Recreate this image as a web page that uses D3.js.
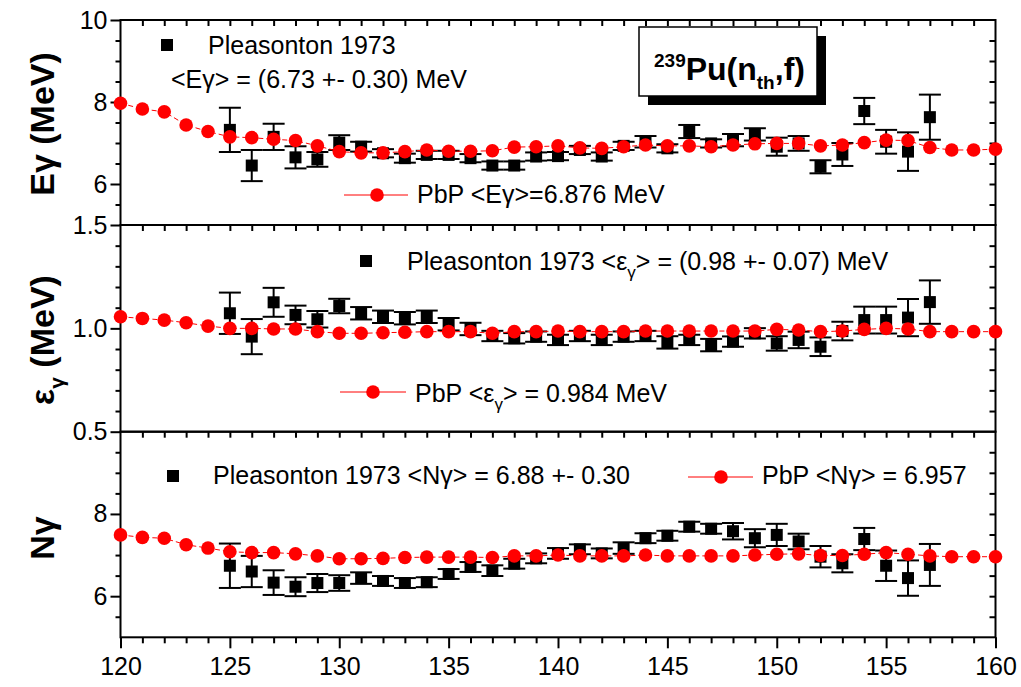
<!DOCTYPE html>
<html><head><meta charset="utf-8">
<script src="https://cdn.jsdelivr.net/npm/d3@7"></script>
<style>body{margin:0;background:#fff;} svg{display:block;font-family:"Liberation Sans",Arial,Helvetica,sans-serif;}</style>
</head><body><svg id="c" width="1021" height="687"></svg>
<script>
// ---------- data ----------
const massPbP = [120,121,122,123,124,125,126,127,128,129,130,131,132,133,134,135,136,137,138,139,140,
                 141,142,143,144,145,146,147,148,149,150,151,152,153,154,155,156,157,158,159,160];
const egPbP  = [7.97,7.83,7.76,7.44,7.28,7.15,7.13,7.09,7.06,6.93,6.79,6.76,6.76,6.79,6.83,6.80,6.80,6.81,6.90,6.91,6.93,
                6.88,6.87,6.91,6.95,6.93,6.93,6.91,6.95,6.98,6.99,6.99,6.93,6.95,7.01,7.07,7.06,6.89,6.83,6.83,6.85];
const epsPbP = [1.056,1.048,1.040,1.027,1.011,1.000,1.000,0.997,0.997,0.984,0.976,0.976,0.979,0.981,0.984,0.984,0.984,0.976,0.984,0.984,0.987,
                0.984,0.984,0.984,0.987,0.987,0.987,0.987,0.987,0.987,0.995,0.992,0.984,0.987,0.995,1.000,0.997,0.984,0.984,0.984,0.984];
const ngPbP  = [7.49,7.43,7.41,7.25,7.17,7.08,7.06,7.06,7.03,6.98,6.91,6.91,6.92,6.94,6.95,6.95,6.95,6.94,6.98,6.98,7.00,
                6.98,6.98,6.98,7.00,6.98,6.98,6.98,6.98,7.00,7.02,7.03,6.99,6.99,7.02,7.06,7.02,6.98,6.96,6.96,6.96];

const massExp = [125,126,127,128,129,130,131,132,133,134,135,136,137,138,139,140,
                 141,142,143,144,145,146,147,148,149,150,151,152,153,154,155,156,157];
const egExp  = [7.32,6.45,7.15,6.65,6.60,7.01,6.91,6.75,6.63,6.71,6.71,6.63,6.45,6.45,6.67,6.68,
                6.83,6.67,6.93,7.03,6.87,7.28,6.99,7.07,7.21,6.91,6.99,6.42,6.72,7.78,7.03,6.79,7.63];
const egErr  = [0.54,0.38,0.32,0.27,0.18,0.18,0.12,0.10,0.11,0.10,0.10,0.10,0.10,0.10,0.10,0.10,
                0.10,0.10,0.10,0.14,0.10,0.16,0.10,0.15,0.15,0.22,0.18,0.16,0.28,0.32,0.29,0.47,0.55];
const epsExp = [1.073,0.960,1.126,1.065,1.044,1.108,1.073,1.056,1.049,1.056,1.020,0.997,0.963,0.952,0.960,0.944,
                0.963,0.944,0.960,0.963,0.932,0.944,0.919,0.936,0.976,0.927,0.944,0.911,0.987,1.040,1.040,1.052,1.127];
const epsErr = [0.100,0.085,0.070,0.045,0.040,0.035,0.030,0.030,0.030,0.030,0.030,0.030,0.025,0.025,0.025,0.025,
                0.025,0.025,0.025,0.025,0.030,0.025,0.030,0.025,0.025,0.035,0.040,0.045,0.045,0.065,0.065,0.090,0.105];
const ngExp  = [6.74,6.60,6.33,6.23,6.32,6.32,6.44,6.37,6.32,6.34,6.54,6.71,6.62,6.79,6.92,7.04,
                7.14,7.04,7.17,7.41,7.47,7.69,7.64,7.58,7.41,7.49,7.33,6.96,6.80,7.39,6.74,6.44,6.76];
const ngErr  = [0.54,0.38,0.30,0.23,0.22,0.19,0.14,0.12,0.12,0.12,0.12,0.12,0.13,0.12,0.12,0.13,
                0.12,0.12,0.14,0.12,0.12,0.12,0.12,0.20,0.22,0.27,0.19,0.26,0.22,0.27,0.37,0.43,0.51];

const xMajor = [120,125,130,135,140,145,150,155,160];
const egMajor = [6,8,10], egMinor = [5.5,6.5,7,7.5,8.5,9,9.5];
const epsMajor = [0.5,1.0,1.5], epsMinor = [0.6,0.7,0.8,0.9,1.1,1.2,1.3,1.4];
const ngMajor = [6,8], ngMinor = [5.5,6.5,7,7.5,8.5,9,9.5];

// ---------- layout ----------
const svg = d3.select("#c");
const L = 120.5, R = 995.5;
const x = d3.scaleLinear().domain([120,160]).range([L,R]);

const panels = [
  {top:20, bot:225, dom:[5,10], major:egMajor, minor:egMinor, fmt:d3.format("d"), pbp:egPbP, exp:egExp, err:egErr},
  {top:225, bot:431.7, dom:[0.5,1.5], major:epsMajor, minor:epsMinor, fmt:d3.format(".1f"), pbp:epsPbP, exp:epsExp, err:epsErr},
  {top:431.7, bot:637.3, dom:[5,10], major:ngMajor, minor:ngMinor, fmt:d3.format("d"), pbp:ngPbP, exp:ngExp, err:ngErr}
];

function styleAxis(g){
  g.select(".domain").remove();
  g.selectAll(".tick line").attr("stroke","#000").attr("stroke-width",2);
  g.selectAll(".tick text").attr("fill","#000").style("font-size","25px")
   .style("font-family",'"Liberation Sans",Arial,sans-serif');
}

panels.forEach((p,i)=>{
  const y = d3.scaleLinear().domain(p.dom).range([p.bot,p.top]);
  p.y = y;
  const g = svg.append("g");
  g.append("g").attr("transform",`translate(${L},0)`)
    .call(d3.axisLeft(y).tickValues(p.major).tickSize(10).tickPadding(3).tickFormat(p.fmt)).call(styleAxis);
  g.append("g").attr("transform",`translate(${L},0)`)
    .call(d3.axisLeft(y).tickValues(p.minor).tickSize(5).tickFormat("")).call(styleAxis);
  g.append("g").attr("transform",`translate(${R},0)`)
    .call(d3.axisLeft(y).tickValues(p.major.concat(p.minor).filter(v=>v>p.dom[0]&&v<p.dom[1])).tickSize(6).tickFormat("")).call(styleAxis);
  g.append("g").attr("transform",`translate(0,${p.top})`)
    .call(d3.axisBottom(x).tickValues(massPbP.filter(v=>v>120&&v<160)).tickSize(6).tickFormat("")).call(styleAxis);
  g.append("rect").attr("x",L).attr("y",p.top).attr("width",R-L).attr("height",p.bot-p.top)
    .attr("fill","none").attr("stroke","#000").attr("stroke-width",2);
});

const gb = svg.append("g").attr("transform",`translate(0,${panels[2].bot})`);
gb.append("g").call(d3.axisBottom(x).tickValues(xMajor).tickSize(11).tickPadding(9).tickFormat(d3.format("d"))).call(styleAxis);
gb.append("g").call(d3.axisBottom(x).tickValues(massPbP.filter(v=>xMajor.indexOf(v)<0)).tickSize(6).tickFormat("")).call(styleAxis);

// ---------- data marks ----------
panels.forEach(p=>{
  const y = p.y;
  const exp = massExp.map((m,k)=>({m, v:p.exp[k], e:p.err[k]}));
  const ge = svg.append("g");
  const eb = ge.selectAll("g.eb").data(exp).enter().append("g");
  eb.append("line").attr("x1",d=>x(d.m)).attr("x2",d=>x(d.m))
    .attr("y1",d=>y(d.v+d.e)).attr("y2",d=>y(d.v-d.e)).attr("stroke","#000").attr("stroke-width",2);
  eb.append("line").attr("x1",d=>x(d.m)-11).attr("x2",d=>x(d.m)+11)
    .attr("y1",d=>y(d.v+d.e)).attr("y2",d=>y(d.v+d.e)).attr("stroke","#000").attr("stroke-width",2);
  eb.append("line").attr("x1",d=>x(d.m)-11).attr("x2",d=>x(d.m)+11)
    .attr("y1",d=>y(d.v-d.e)).attr("y2",d=>y(d.v-d.e)).attr("stroke","#000").attr("stroke-width",2);
  eb.append("rect").attr("x",d=>x(d.m)-6).attr("y",d=>y(d.v)-6).attr("width",12).attr("height",12).attr("fill","#000");

  const pb = massPbP.map((m,k)=>({m, v:p.pbp[k]}));
  svg.append("path").datum(pb)
    .attr("d", d3.line().x(d=>x(d.m)).y(d=>y(d.v)))
    .attr("fill","none").attr("stroke","#ff0000").attr("stroke-width",1).attr("stroke-dasharray","5,3");
  svg.append("g").selectAll("circle").data(pb).enter().append("circle")
    .attr("cx",d=>x(d.m)).attr("cy",d=>y(d.v)).attr("r",6.8).attr("fill","#ff0000");
});

// ---------- legends ----------
function sq(cx,cy){ svg.append("rect").attr("x",cx-6).attr("y",cy-6).attr("width",12).attr("height",12).attr("fill","#000"); }
function pbpKey(x1,x2,cx,cy){
  svg.append("line").attr("x1",x1).attr("x2",x2).attr("y1",cy).attr("y2",cy).attr("stroke","#ff0000").attr("stroke-width",1);
  svg.append("circle").attr("cx",cx).attr("cy",cy).attr("r",6.8).attr("fill","#ff0000");
}
function txt(xp,yp){ return svg.append("text").attr("x",xp).attr("y",yp).style("font-size","25px").attr("fill","#000"); }

sq(167,45); txt(208,54).text("Pleasonton 1973");
txt(171,88).text("<Eγ> = (6.73 +- 0.30) MeV");
pbpKey(344,408,377,195); txt(417,203).text("PbP <Eγ>=6.876 MeV");

sq(366,261);
{ const t = txt(407,270); t.append("tspan").text("Pleasonton 1973 <ε");
  t.append("tspan").attr("dy",8).style("font-size","17px").text("γ");
  t.append("tspan").attr("dy",-8).text("> = (0.98 +- 0.07) MeV"); }
pbpKey(340,406,373,392);
{ const t = txt(415,402); t.append("tspan").text("PbP <ε");
  t.append("tspan").attr("dy",8).style("font-size","17px").text("γ");
  t.append("tspan").attr("dy",-8).text("> = 0.984 MeV"); }

sq(173,476); txt(213,484).text("Pleasonton 1973 <Nγ> = 6.88 +- 0.30");
pbpKey(688,753,721,477); txt(762,484).text("PbP <Nγ> = 6.957");

// ---------- title box ----------
svg.append("rect").attr("x",648).attr("y",36).attr("width",178).attr("height",69).attr("fill","#000");
svg.append("rect").attr("x",639).attr("y",27).attr("width",178).attr("height",69).attr("fill","#fff").attr("stroke","#000").attr("stroke-width",1.5);
{ const t = svg.append("text").attr("x",654).attr("y",80).style("font-weight","bold").style("font-size","32px");
  t.append("tspan").attr("dy",-13).style("font-size","19px").text("239");
  t.append("tspan").attr("dy",13).text("Pu(n");
  t.append("tspan").attr("dy",9).style("font-size","19px").text("th");
  t.append("tspan").attr("dy",-9).text(",f)"); }

// ---------- y titles ----------
function ytitle(cy){ return svg.append("text").attr("transform",`translate(54,${cy}) rotate(-90)`)
  .attr("text-anchor","middle").style("font-weight","bold").style("font-size","34px"); }
ytitle(124).text("Eγ (MeV)");
{ const t = ytitle(340); t.append("tspan").text("ε");
  t.append("tspan").attr("dy",10).style("font-size","21px").text("γ");
  t.append("tspan").attr("dy",-10).text(" (MeV)"); }
ytitle(538).text("Nγ");
</script></body></html>
